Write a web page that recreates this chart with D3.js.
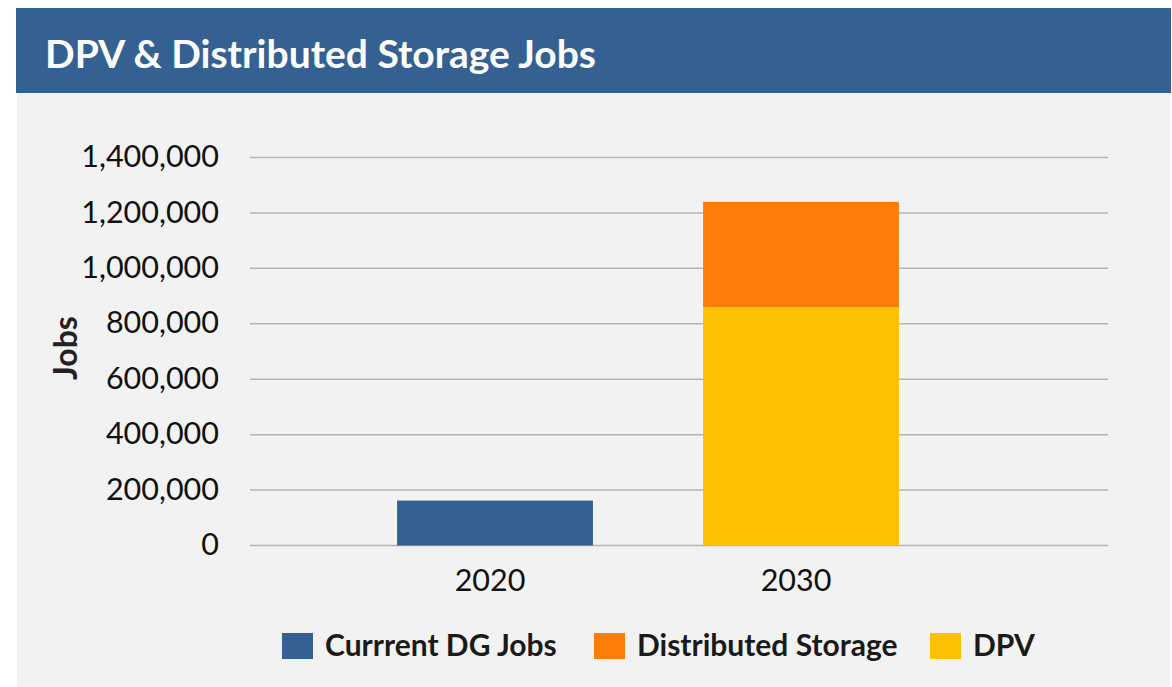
<!DOCTYPE html>
<html>
<head>
<meta charset="utf-8">
<script src="https://cdn.jsdelivr.net/npm/d3@7"></script>
<style>
  html, body { margin: 0; padding: 0; background: #fff; }
  svg { display: block; font-family: Lato, 'Open Sans', sans-serif; }
</style>
</head>
<body>
<svg id="chart" width="1172" height="687"></svg>
<script>
// values
const years = ['2020', '2030'];
const currentDG = [162000, 0];
const dpv = [0, 860000];
const storage = [0, 380000];
const yTicks = [0, 200000, 400000, 600000, 800000, 1000000, 1200000, 1400000];

const seriesNames = ['Currrent DG Jobs', 'Distributed Storage', 'DPV'];
const colors = { dg: '#356192', storage: '#FC7D08', dpv: '#FDC103' };

const svg = d3.select('#chart');

// header band + grey panel
svg.append('rect').attr('x', 16).attr('y', 8).attr('width', 1155).attr('height', 85)
  .attr('fill', '#356192');
svg.append('rect').attr('x', 17).attr('y', 93).attr('width', 1153).attr('height', 594)
  .attr('fill', '#F2F2F2');
svg.append('text')
  .attr('x', 45).attr('y', 68)
  .attr('fill', '#fff')
  .attr('font-size', 39).attr('font-weight', 700)
  .text('DPV & Distributed Storage Jobs');

const x = d3.scaleBand()
  .domain(years)
  .range([342, 954])
  .paddingInner(0.36)
  .paddingOuter(0.18);

const y = d3.scaleLinear()
  .domain([0, 1400000])
  .range([545.5, 157.5]);

// gridlines
svg.append('g')
  .selectAll('line')
  .data(yTicks)
  .join('line')
  .attr('x1', 250).attr('x2', 1108)
  .attr('y1', (d) => y(d)).attr('y2', (d) => y(d))
  .attr('stroke', '#B4B4B4')
  .attr('stroke-width', 1.5);

// y axis labels
const yAxis = svg.append('g')
  .attr('transform', 'translate(232,0)')
  .call(d3.axisLeft(y).tickValues(yTicks).tickFormat(d3.format(',')).tickSize(0).tickPadding(13));
yAxis.select('.domain').remove();
yAxis.selectAll('text')
  .attr('font-size', 30.5).attr('fill', '#111').attr('font-family', 'Lato, sans-serif')
  .attr('dy', '0.3em');

svg.append('text')
  .attr('transform', 'translate(77,348) rotate(-90)')
  .attr('text-anchor', 'middle')
  .attr('font-size', 32).attr('font-weight', 700).attr('fill', '#222')
  .text('Jobs');

// x axis labels
const xAxis = svg.append('g')
  .attr('transform', 'translate(-5,545.5)')
  .call(d3.axisBottom(x).tickSize(0).tickPadding(24));
xAxis.select('.domain').remove();
xAxis.selectAll('text')
  .attr('font-size', 30.5).attr('fill', '#111').attr('font-family', 'Lato, sans-serif');

// stacked bars
const rows = years.map((yr, i) => ({ year: yr, dg: currentDG[i], dpv: dpv[i], storage: storage[i] }));
const stack = d3.stack().keys(['dg', 'dpv', 'storage'])(rows);

svg.append('g')
  .selectAll('g')
  .data(stack)
  .join('g')
  .attr('fill', (s) => colors[s.key])
  .selectAll('rect')
  .data((s) => s.filter((d) => d[1] - d[0] > 0))
  .join('rect')
  .attr('x', (d) => x(d.data.year))
  .attr('width', x.bandwidth())
  .attr('y', (d) => y(d[1]))
  .attr('height', (d) => y(d[0]) - y(d[1]));

// legend
const legendItems = [
  { name: seriesNames[0], color: colors.dg, x: 282 },
  { name: seriesNames[1], color: colors.storage, x: 594 },
  { name: seriesNames[2], color: colors.dpv, x: 930 },
];
const legend = svg.append('g')
  .selectAll('g')
  .data(legendItems)
  .join('g')
  .attr('transform', (d) => `translate(${d.x},633)`);
legend.append('rect').attr('width', 31).attr('height', 26).attr('fill', (d) => d.color);
legend.append('text')
  .attr('x', 43).attr('y', 23)
  .attr('font-size', 30).attr('font-weight', 700).attr('fill', '#1a1a1a')
  .text((d) => d.name);
</script>
</body>
</html>
